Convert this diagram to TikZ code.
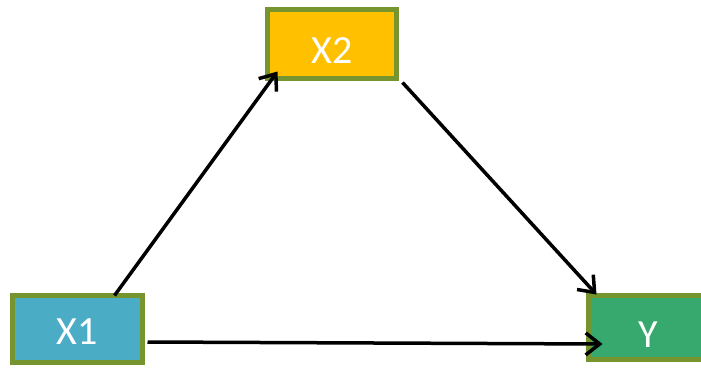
\documentclass[tikz,border=0pt]{standalone}
\usepackage{fontspec}
\setmainfont{Carlito}
\usetikzlibrary{arrows.meta,calc}
\definecolor{bordergreen}{HTML}{76952F}
\definecolor{boxorange}{HTML}{FFC000}
\definecolor{boxblue}{HTML}{4BACC6}
\definecolor{boxgreen}{HTML}{37A86E}
\begin{document}
\begin{tikzpicture}[x=1pt,y=-1pt,
  varbox/.style={draw=bordergreen,line width=5pt,rectangle,inner sep=0pt,
    text=white,font=\fontsize{40}{40}\selectfont,minimum height=#1},
  conn/.style={line width=3.5pt,-{Straight Barb[length=14pt,width=22pt,line width=3.5pt]}}]
\useasboundingbox (0,0) rectangle (701,367);
\clip (0,0) rectangle (701,367);
\fill[white] (0,0) rectangle (701,367);
\node[varbox=69pt,fill=boxorange,minimum width=129pt,text height=38pt] (x2) at (332,44) {X2};
\node[varbox=67pt,fill=boxblue,minimum width=130pt,text height=30pt] (x1) at (77.5,329) {X1};
\node[varbox=64pt,fill=boxgreen,minimum width=120pt,text height=39pt] (y) at (648.5,327.5) {Y};
\draw[conn] ($(x1.north west)+(104.5,2.5)$) -- ($(x2.south west)+(12.5,-9.5)$);
\draw[conn] ($(x2.south east)+(3.5,1.5)$) -- ($(y.north west)+(10.5,1.5)$);
\draw[conn] ($(x1.east)+(2.5,13)$) -- ($(y.west)+(16.5,16.5)$);
\end{tikzpicture}
\end{document}
